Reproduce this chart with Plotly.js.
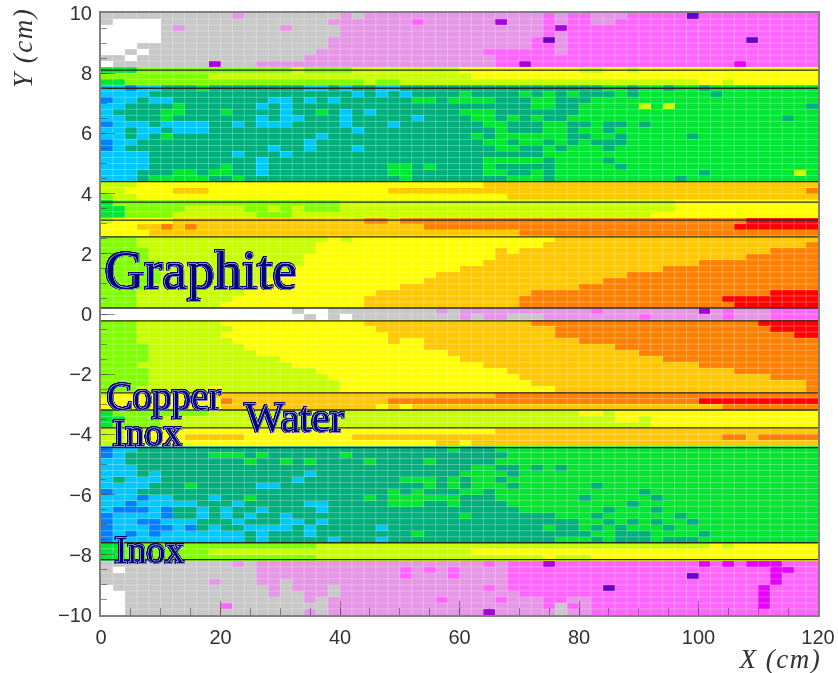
<!DOCTYPE html>
<html>
<head>
<meta charset="utf-8">
<script src="https://cdn.plot.ly/plotly-3.0.1.min.js"></script>
<style>
html,body{margin:0;padding:0;background:#fff;overflow:hidden}
#plot{width:838px;height:673px;filter:blur(0.5px)}
g.annotation[data-index="0"] text,g.annotation[data-index="1"] text{letter-spacing:1.5px}
g.annotation:not([data-index="0"]):not([data-index="1"]) text{paint-order:stroke;stroke:#e8eef0;stroke-width:1px;filter:drop-shadow(0.85px 0 0 #00007a) drop-shadow(-0.85px 0 0 #00007a) drop-shadow(0 0.85px 0 #00007a) drop-shadow(0 -0.85px 0 #00007a)}
</style>
</head>
<body>
<div id="plot"></div>
<script>
// Colour levels, lowest to highest (one letter per level in the rows below)
const levelKeys = ['p','q','o','n','m','l','w','a','b','c','d','e','f','g','h','i','j'];
const levelColors = ['#6400c8','#a800e0','#e600ff','#ff64ff','#e696e6','#c8c8c8','#ffffff','#0080ff','#00c8ff','#00b07c','#00e633','#80ff00','#c8ff00','#ffff00','#ffc800','#ff8000','#ff0000'];

// Cells: 60 bins in X (2 cm), 100 bins in Y (0.2 cm), from Y=+10 down to Y=-10.
// Each token is <level><column where that level stops>.
const rowsAir1 = [
"l11 m12 l20 m21 l22 m37 n38 m39 n41 m44 n49 p50 n60",
"l1 w5 l19 m26 n27 m33 q34 m37 n38 m39 n41 m43 n60",
"w5 l6 m7 l15 m16 l20 m37 n38 q39 n60",
"w5 l20 m37 n38 m39 n60",
"w5 l19 m36 n37 p38 m39 n54 p55 n60",
"w3 l19 m36 n38 m39 n60",
"w2 l3 w4 l18 m32 n38 m39 n60",
"l2 w3 l17 m33 n60",
"w1 l9 q10 l13 m33 n35 q36 n53 o54 n60"];
const rowsInoxUp = [
"d3 e16 f17 e21 f30 g40 f42 g44 f45 g60",
"e9 f31 g60",
"d2 e22 f23 e25 f50 g52 f53 g60"];
const rowsTealUp = [
"b2 a3 b5 c8 d9 c17 b19 c20 b21 c23 b25 c42 d44 c45 d47 c48 d50 c51 d60",
"b4 c21 b22 c23 b24 c25 b26 c30 d31 c35 d36 c37 d38 c39 d40 c43 d44 c45 d51 c52 d60",
"a1 b3 c4 b6 c14 b16 c17 b18 c19 b20 c26 d28 c29 d33 c36 d38 c41 d60",
"b2 c6 d7 c13 b14 c15 b16 c36 d38 c40 d45 f46 d47 f48 d59 c60",
"b1 c5 d7 c10 d11 c15 b16 c18 d19 c20 b21 c22 b23 c30 d33 c40 d60",
"b2 c5 d6 c13 b14 c15 b17 c20 b21 c26 b27 c31 d33 c34 d35 c36 d37 c39 d57 c58 d60",
"a1 b4 c5 b9 c11 b12 c13 b16 c20 b21 c24 b25 c32 d34 c37 d39 c41 d42 c44 d45 c46 d60",
"b2 c3 b5 c6 b9 c21 b22 c33 d34 c37 d39 c40 d42 c43 d60",
"b2 c3 b4 c5 d6 c18 b19 c31 d32 c33 d39 c41 d43 c44 d49 c50 d60",
"a1 b3 c17 b18 c32 d34 c35 d37 c38 d39 c40 d41 c44 d60",
"a1 b2 c14 b15 c17 b18 c21 b22 c33 d35 c37 d38 c39 d42 c43 d60",
"b4 c11 b12 c15 b16 c37 d60",
"b4 c13 b14 c32 d37 c38 d42 c43 d60",
"b4 c10 d11 c13 b14 c24 d26 c27 d28 c32 d33 c38 d43 c44 d60",
"b3 c6 d8 c9 d11 c13 b14 c24 d26 c32 d34 c36 d37 c38 d50 c51 d58 f59 d60",
"b3 c4 d9 c11 d12 c25 d26 c34 d37 c38 d48 c49 d60"];
const rowsInoxUp2 = [
"f3 g32 h60",
"f2 g6 h9 g24 h59 i60",
"e1 f3 g34 h60"];
const rowsWaterUp = [
"d1 e20 f48 g60",
"d2 e7 f12 e14 f15 e16 f17 e20 f48 g60",
"d2 e6 f13 e16 f46 g60"];
const rowsCopperUp = [
"f1 g6 h22 i24 h25 i54 j60",
"g3 h5 i6 h7 i8 h27 i53 j60",
"g4 h35 i60"];
const rowsGraphiteUp = [
"e3 f19 g20 f21 g38 h60",
"e3 f18 g37 h59 i60",
"e4 f18 g33 h34 g35 h56 i60",
"e4 f17 g33 h54 i60",
"e5 f17 g32 h50 i60",
"e5 f16 g30 h47 i60",
"e5 f15 g28 h44 i60",
"e5 f14 g27 h42 i60",
"e4 f13 g25 h40 i60",
"e3 f12 g23 h36 i56 j60",
"e3 f11 g22 h35 i52 j60",
"e3 f10 g22 h35 i53 j60"];
const rowsGap = [
"w16 l17 w19 l28 m29 l30 m41 n42 m50 q51 m52 n53 m56 n60",
"w17 l18 w19 l20 w21 l30 m31 l32 m34 l37 m45 n46 m52 n53 m56 n60"];
const rowsGraphiteDown = [
"e3 f10 g22 h36 i55 j60",
"e3 f11 g23 h38 i56 j60",
"e3 f10 g24 h38 i58 j60",
"e3 f11 g24 h25 g27 h40 i60",
"e4 f12 g27 h43 i60",
"e4 f13 g29 h45 i60",
"e4 f15 g30 h47 i60",
"e3 f16 g32 h50 i60",
"e4 f18 g34 h53 i60",
"e4 f19 g35 h56 i60",
"e4 f20 g36 h59 i60",
"e3 f9 g10 f20 g38 h59 i60"];
const rowsCopperDown = [
"f1 g9 h33 i60",
"g10 i11 h24 i50 j60",
"g10 h23 g24 h25 g26 h52 i60"];
const rowsWaterDown = [
"d1 e9 f40 g42 f43 g60",
"d2 e5 f43 g45 f46 g60",
"d1 e5 f46 g60"];
const rowsInoxDown = [
"f2 g33 h60",
"f2 g7 h12 g21 h52 i54 h55 i60",
"f2 g28 h30 g31 h60"];
const rowsTealDown = [
"a1 b3 c29 d30 c33 d60",
"a1 b2 c9 d12 c13 d14 c20 d21 c34 d60",
"b2 c12 d13 c15 d16 c17 d18 c22 d23 c27 d28 c33 d60",
"b3 c31 d33 c35 d36 c37 d38 c39 d60",
"b3 c4 b5 c17 b18 c30 d34 c35 d60",
"b1 c2 b5 c16 b17 c25 d28 c29 d30 c31 d33 c34 d60",
"b4 c7 d8 c13 b15 c27 d28 c29 d30 c31 d34 c35 d41 c42 d60",
"a1 b3 c24 d25 c26 d27 c30 d32 c33 d45 c46 d60",
"b3 a4 b6 c9 b10 c12 d13 c22 d23 c24 d30 c33 d40 c41 d46 c47 d60",
"b2 a3 b8 c11 b12 c17 b19 c24 d27 c29 d30 c34 d44 c45 d60",
"b1 a4 b5 a6 c8 b9 c10 b11 c13 b14 c18 b19 c35 d42 c43 d46 c47 d60",
"a1 b5 a6 c8 b9 c10 b11 c12 b13 c15 b16 c30 d31 c38 d41 c42 d48 c49 d60",
"a1 b3 a5 b8 c11 b12 c15 b17 c18 b19 c40 d42 c43 d44 c45 d46 c47 d49 c50 d60",
"a1 b4 a6 b7 a8 c9 b10 c12 b16 c17 b18 c23 b24 c37 d38 c40 d41 c42 d43 c44 d47 c48 d60",
"a1 b2 a3 b4 a5 b12 c13 b14 c17 b18 c26 d27 c41 d43 c46 d50 c51 d60",
"a1 b12 c13 b14 c19 b20 c23 b24 c38 d41 c42 d43 c46 d47 c50 d60"];
const rowsInoxDown2 = [
"d2 e18 f51 g52 f53 g60",
"d2 e9 f31 g60",
"d2 e18 f37 g38 f41 g60"];
const rowsAir2 = [
"l11 m12 l13 m32 n33 m34 n37 q38 n50 o51 n52 o53 n54 o57 n60",
"l1 w2 l13 m25 n26 m27 n28 m29 n30 m34 n56 o58 n60",
"l13 m25 n26 m29 n30 m34 n49 p50 n56 o57 n60",
"l9 m10 l13 m15 l16 m34 n56 o57 n60",
"w1 l14 m15 l16 m19 l20 m32 n33 m34 n42 p43 n55 o56 n60",
"w2 l14 m15 l17 m19 l20 m35 n55 o56 n60",
"w2 l17 m18 l19 m28 n29 m33 n34 m37 n39 m41 n55 o56 n60",
"w2 l10 n11 l19 m37 n38 l39 n40 m41 n55 o56 n60",
"w2 l17 m18 l19 m32 q33 m38 l39 m41 n60"];

// Material boundaries (cm) and where each line stops on the right (cm)
const wallY =   [8.1, 7.5, 4.4, 3.72, 3.12, 2.56, 0.2, -0.23, -2.62, -3.19, -3.78, -4.44, -7.6, -8.16];
const wallEnd = [120, 120, 120, 120, 120, 120, 120.6, 120.6, 120.6, 120.6, 120, 120, 120, 120];

const xTickVals = [0, 20, 40, 60, 80, 100, 120];
const yTickVals = [-10, -8, -6, -4, -2, 0, 2, 4, 6, 8, 10];

const labelTexts = ['Graphite', 'Copper', 'Inox', 'Water', 'Inox'];
const labelX = [104, 106, 112, 244, 114];
const labelY = [290, 411, 447, 433, 564];
const labelSize = [55, 39, 38, 42, 38];

// ---- build ----
const nx = 60, ny = 100, dx = 2, dy = 0.2;
const rows = [].concat(rowsAir1, rowsInoxUp, rowsTealUp, rowsInoxUp2, rowsWaterUp, rowsCopperUp,
  rowsGraphiteUp, rowsGap, rowsGraphiteDown, rowsCopperDown, rowsWaterDown, rowsInoxDown,
  rowsTealDown, rowsInoxDown2, rowsAir2);
const z = rows.map(r => {
  const out = new Array(nx);
  let start = 0;
  r.split(' ').forEach(t => {
    const lv = levelKeys.indexOf(t[0]), end = +t.slice(1);
    for (let c = start; c < end; c++) out[c] = lv;
    start = Math.max(start, end);
  });
  return out;
});
const xCenters = Array.from({length: nx}, (_, j) => dx * (j + 0.5));
const yCenters = Array.from({length: ny}, (_, i) => 10 - dy * (i + 0.5));
const n = levelColors.length;
const colorscale = [];
levelColors.forEach((c, k) => { colorscale.push([k / n, c], [(k + 1) / n, c]); });

const heat = {type:'heatmap', x:xCenters, y:yCenters, z:z, zmin:-0.5, zmax:n-0.5,
  colorscale:colorscale, showscale:false, hoverinfo:'skip'};

const gx = [], gy = [];
for (let j = 1; j < nx; j++) { gx.push(j*dx, j*dx, null); gy.push(-10, 10, null); }
for (let i = 1; i < ny; i++) { gx.push(0, 120, null); gy.push(10-i*dy, 10-i*dy, null); }
const grid = {type:'scatter', mode:'lines', x:gx, y:gy, hoverinfo:'skip', showlegend:false,
  line:{color:'rgba(255,255,255,0.28)', width:1}};

const wallTraces = wallY.map((y, k) => ({type:'scatter', mode:'lines', x:[0, wallEnd[k]], y:[y, y],
  hoverinfo:'skip', showlegend:false, cliponaxis:false, line:{color:'#2a2a20', width:1.3}}));

const tickFont = {family:'"Liberation Sans", Arial, sans-serif', size:20, color:'#333333'};
const tickInk = 'rgba(70,70,70,0.6)';
const axisBase = {ticks:'inside', tickcolor:tickInk, tickwidth:1, ticklen:14, showline:true,
  linecolor:'#808080', linewidth:2, mirror:true, showgrid:false, zeroline:false,
  tickfont:tickFont, layer:'above traces'};

const titleFont = {family:'"Liberation Serif", "Times New Roman", serif', size:27, color:'#333333', style:'italic'};
const annotations = [
  {xref:'paper', yref:'paper', x:1, y:0, xanchor:'right', yanchor:'top', yshift:-27, xshift:1,
   text:'X (cm)', showarrow:false, font:titleFont},
  {xref:'paper', yref:'paper', x:0, y:1, xanchor:'right', yanchor:'top', xshift:-62, yshift:2,
   text:'Y (cm)', textangle:-90, showarrow:false, font:titleFont}
];
labelTexts.forEach((t, k) => annotations.push({
  xref:'paper', yref:'paper', text:t, showarrow:false, xanchor:'left', yanchor:'bottom',
  x:(labelX[k]-101)/717, y:(615-labelY[k]-labelSize[k]*0.22)/602,
  borderpad:0, captureevents:false,
  font:{family:'"Liberation Serif", "Times New Roman", serif', size:labelSize[k], color:'#00007a'}
}));

const layout = {
  width:838, height:673, autosize:false,
  margin:{l:101, r:20, t:13, b:58, pad:0},
  paper_bgcolor:'#ffffff', plot_bgcolor:'#ffffff', showlegend:false,
  xaxis:Object.assign({}, axisBase, {range:[0,120], tickmode:'array', tickvals:xTickVals,
    ticklabelstandoff:3, minor:{ticks:'inside', dtick:5, ticklen:7, tickcolor:tickInk, tickwidth:1, showgrid:false}}),
  yaxis:Object.assign({}, axisBase, {range:[-10,10], tickmode:'array', tickvals:yTickVals,
    ticklabelstandoff:3, minor:{ticks:'inside', dtick:0.5, ticklen:6, tickcolor:tickInk, tickwidth:1, showgrid:false}}),
  annotations:annotations
};
Plotly.newPlot('plot', [heat, grid].concat(wallTraces), layout, {staticPlot:true, displayModeBar:false});
</script>
</body>
</html>
